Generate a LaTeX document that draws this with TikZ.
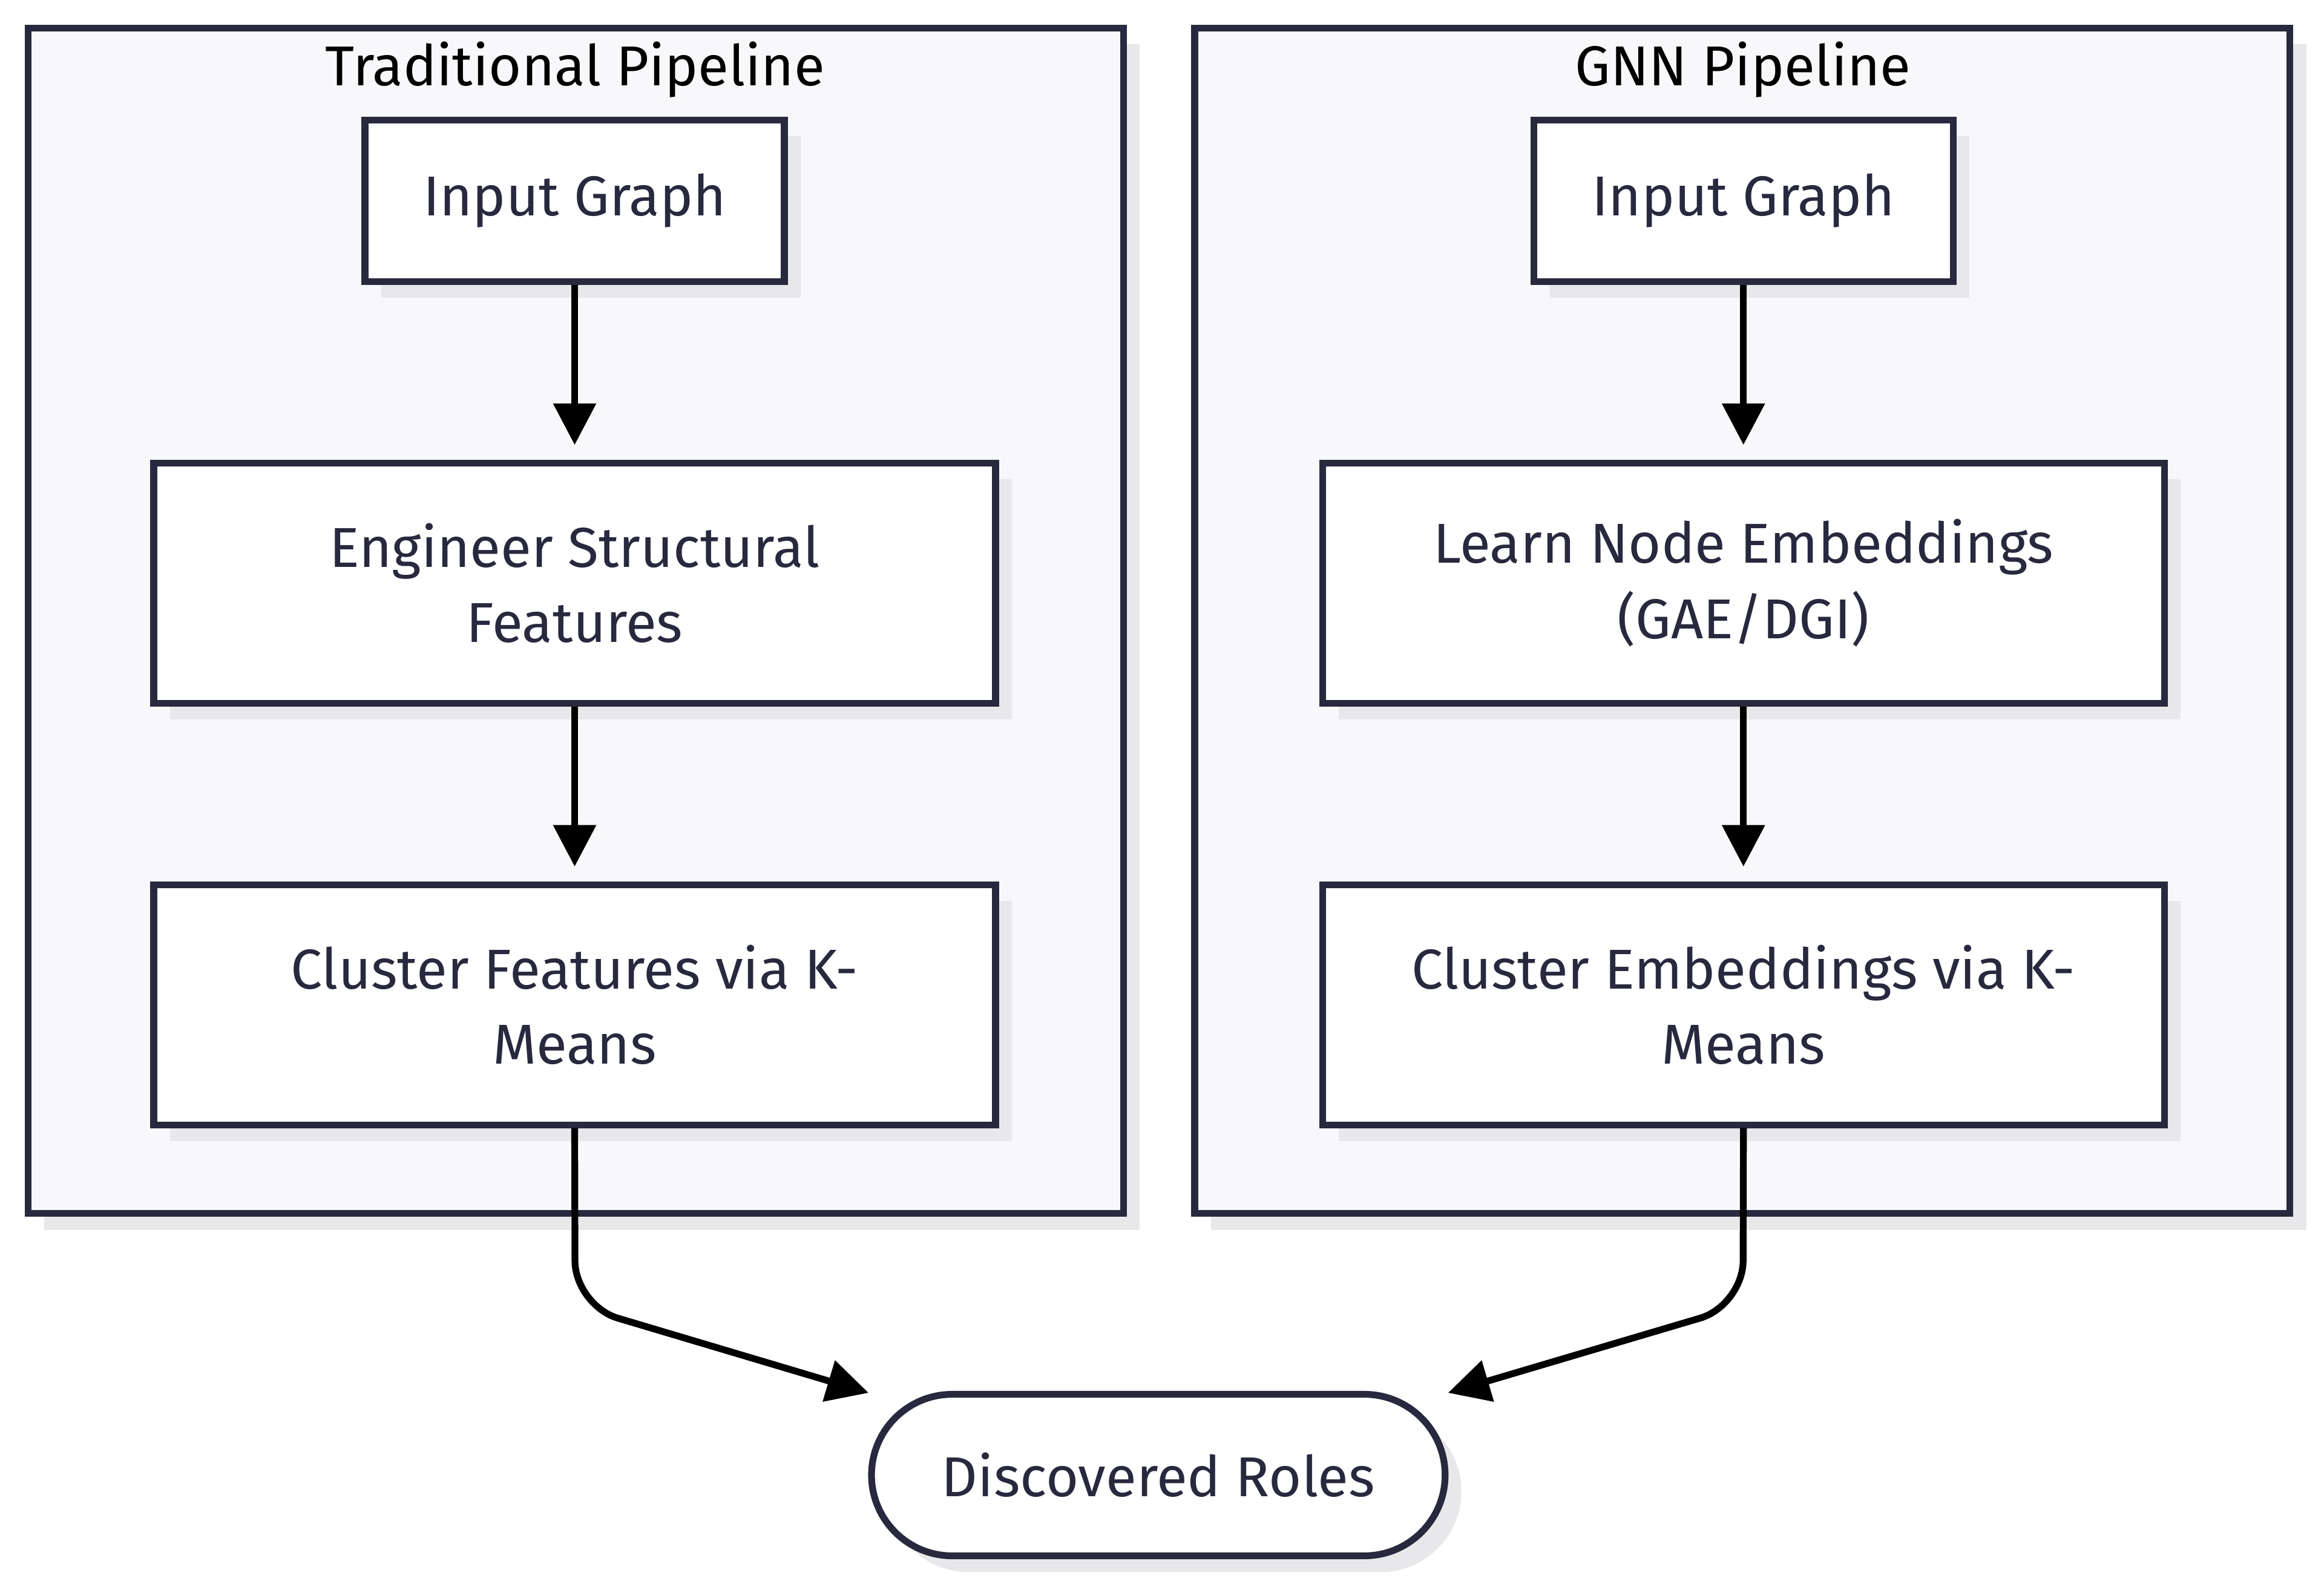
\documentclass[tikz,border=0pt]{standalone}
\usepackage{fontspec}
\setmainfont{Fira Sans}
\usetikzlibrary{matrix}
\usetikzlibrary{arrows.meta}
\usetikzlibrary{shadows}
\definecolor{ink}{HTML}{28283E}
\definecolor{panel}{HTML}{F8F8FA}
\definecolor{shade}{HTML}{E8E8EB}

\begin{document}
\begin{tikzpicture}[-,>={Triangle[length=2.8mm,width=2.8mm]},font=\fontsize{10.8}{14.5}\selectfont,
	boxshadow/.style={drop shadow={shadow xshift=1.1mm,shadow yshift=-1.1mm,fill=shade,opacity=1}},
	cluster/.style={draw=ink,line width=1.3pt,fill=panel,boxshadow,minimum width=73.9mm,minimum height=80mm,inner sep=0pt},
	clustertitle/.style={text=black,inner sep=0pt},
	stagebox/.style={draw=ink,line width=1.3pt,fill=white,text=ink,align=center,inner sep=2pt,boxshadow},
	smallbox/.style={stagebox,minimum width=28.3mm,minimum height=10.9mm},
	bigbox/.style={stagebox,minimum width=56.8mm,minimum height=16.2mm},
	rolebox/.style={draw=ink,line width=1.3pt,fill=white,text=ink,boxshadow,rounded corners=5.45mm,minimum width=38.7mm,minimum height=10.9mm},
	flow/.style={->,line width=1.3pt,shorten >=1mm},
	mergeline/.style={->,line width=1.3pt,rounded corners=3mm}]
		\useasboundingbox (0,0) rectangle (15.68,-10.73);
		\node[cluster] (tradbox) at (3.885,-4.19) {};
		\node[cluster] (gnnbox) at (11.755,-4.19) {};
		\node[clustertitle] (tradtitle) at (3.88,-0.47) {Traditional Pipeline};
		\node[clustertitle] (gnntitle) at (11.76,-0.47) {GNN Pipeline};
		\matrix[anchor=north,inner sep=0pt,row sep=11.8mm,column sep=21.6mm,ampersand replacement=\&] (pipes) at (7.82,-0.78)
		{
			\node[smallbox] (tin) {Input Graph}; \& \node[smallbox] (gin) {Input Graph}; \\
			\node[bigbox] (teng) {Engineer Structural\\Features}; \& \node[bigbox] (glearn) {Learn Node Embeddings\\(GAE/DGI)}; \\
			\node[bigbox] (tclust) {Cluster Features via K-\\Means}; \& \node[bigbox] (gclust) {Cluster Embeddings via K-\\Means}; \\
		};
		\node[rolebox] (roles) at (7.815,-9.955) {Discovered Roles};
		\coordinate (tbend) at (3.88,-8.81);
		\coordinate (gbend) at (11.76,-8.81);
		\coordinate (rolesleft) at (5.86,-9.40);
		\coordinate (rolesright) at (9.77,-9.40);
		\draw[flow] (tin) -- (teng);
		\draw[flow] (teng) -- (tclust);
		\draw[flow] (gin) -- (glearn);
		\draw[flow] (glearn) -- (gclust);
		\draw[mergeline] (tclust.south) -- (tbend) -- (rolesleft);
		\draw[mergeline] (gclust.south) -- (gbend) -- (rolesright);
\end{tikzpicture}
\end{document}
